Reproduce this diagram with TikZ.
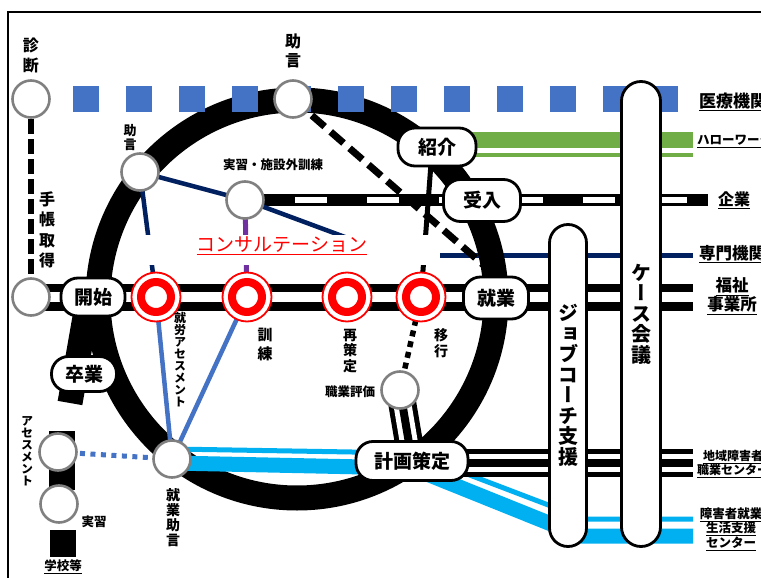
\documentclass[tikz,border=0pt]{standalone}
\usepackage{fontspec}
\setmainfont{Noto Sans CJK JP}
\newfontfamily\jpv[RawFeature=+vert]{Noto Sans CJK JP}
\pgfdeclarelayer{bg}
\pgfsetlayers{bg,main}

\definecolor{medblue}{RGB}{68,114,196}
\definecolor{hwgreen}{RGB}{112,173,71}
\definecolor{navyline}{RGB}{0,32,96}
\definecolor{violetline}{RGB}{112,48,160}
\definecolor{skyline}{RGB}{0,176,240}
\definecolor{stgray}{RGB}{128,128,128}

\begin{document}
\begin{tikzpicture}[x=1pt,y=-1pt,
  station/.style={circle,draw=stgray,line width=2.6,fill=white,minimum size=37,inner sep=0},
  redouter/.style={circle,draw=red,line width=1.8,fill=white,minimum size=49,inner sep=0},
  redinner/.style={circle,draw=red,line width=8,fill=white,minimum size=30,inner sep=0},
  pill/.style={rectangle,rounded corners=17,draw=black,line width=2.8,fill=white,inner sep=0,
    font=\bfseries\fontsize{19}{21}\selectfont},
  vpill/.style={rectangle,draw=black,line width=2.8,fill=white,inner sep=0,align=center,
    font=\jpv\bfseries\fontsize{20}{20.5}\selectfont},
  vlab/.style={inner sep=0,align=center},
  hlab/.style={inner sep=0,align=center},
  railblack/.style={line width=27,black},
  railwhite/.style={line width=10,white},
  triouter/.style={line width=28,black},
  trimid/.style={line width=18,white},
  triinner/.style={line width=8,black}]

\useasboundingbox (0,0) rectangle (761,578);

% ---------- free ends of the lines ----------
\coordinate (medR) at (678,99);
\coordinate (greenA) at (440,140);  \coordinate (greenB) at (693,140);
\coordinate (greenC) at (440,155);  \coordinate (greenD) at (693,155);
\coordinate (kigyoR) at (708,200);
\coordinate (kigyoW1) at (295,200); \coordinate (kigyoW2) at (687,200);
\coordinate (senmonA) at (440,255); \coordinate (senmonB) at (693,255);
\coordinate (fukuR) at (693,297);
\coordinate (chiikiL) at (412,463); \coordinate (chiikiR) at (693,463);
\coordinate (navyEnd) at (380,250);
\coordinate (shokaiB) at (432,150);
\coordinate (diagEnd) at (487,268);
\coordinate (brTop) at (88,300);    \coordinate (brEnd) at (70,403);
\coordinate (cyT0) at (172,449); \coordinate (cyT1) at (412,453);
\coordinate (cyT2) at (585,519); \coordinate (cyT3) at (693,519);
\coordinate (cyK0) at (172,463); \coordinate (cyK1) at (412,468);
\coordinate (cyK2) at (581,536); \coordinate (cyK3) at (693,536);

% ---------- white band behind the consultation title ----------
\node[fill=white,minimum width=300,minimum height=30,inner sep=0] (consultBox) at (290,250) {};
\node[hlab,red,font=\fontsize{19}{21}\selectfont] (tConsult) at (282,246) {\underline{コンサルテーション}};

% ---------- vertical pills ----------
\node[vpill,rounded corners=18.5,minimum width=37,minimum height=322] (job) at (568,385.5)
  {ジ\\ョ\\ブ\\コ\\ー\\チ\\支\\援};
\node[vpill,rounded corners=19.5,minimum width=39,minimum height=465] (caseconf) at (641,314)
  {ケ\\ー\\ス\\会\\議};

% ---------- stations ----------
\node[station] (shindan) at (31,99) {};
\node[station] (kaishiL) at (31,297) {};
\node[station] (jogenT) at (293,99) {};
\node[station] (jogenUL) at (140,172) {};
\node[station] (jisshuG) at (245,200) {};
\node[station] (hyoka) at (400,390) {};
\node[station] (shJogen) at (172,459) {};
\node[station] (assess) at (58,452) {};
\node[station] (jisshuS) at (59,504) {};

\foreach \i/\x in {1/156,2/247,3/347,4/421}{
  \node[redouter] (r\i o) at (\x,297) {};
  \node[redinner] (r\i) at (\x,297) {};
}

% ---------- pills ----------
\node[pill,minimum width=64,minimum height=38] (kaishi) at (93,297) {開始};
\node[pill,minimum width=65,minimum height=35] (sotsu) at (84,374) {卒業};
\node[pill,minimum width=78,minimum height=38] (shokai) at (437,147) {紹介};
\node[pill,minimum width=77,minimum height=42] (ukeire) at (482,200.5) {受入};
\node[pill,minimum width=65,minimum height=42] (shugyo) at (496,298) {就業};
\node[pill,minimum width=112,minimum height=39] (keikaku) at (412,461) {計画策定};

% ---------- vertical labels ----------
\node[vlab,font=\jpv\bfseries\fontsize{16}{20}\selectfont] (tShindan) at (31,55) {診\\断};
\node[vlab,font=\jpv\bfseries\fontsize{16}{19}\selectfont] (tJogenT) at (293,51) {助\\言};
\node[vlab,font=\jpv\bfseries\fontsize{13}{14}\selectfont] (tJogenUL) at (130,138) {助\\言};
\node[vlab,font=\jpv\bfseries\fontsize{16}{20.3}\selectfont] (tTecho) at (47,230) {手\\帳\\取\\得};
\node[vlab,font=\jpv\bfseries\fontsize{12}{12}\selectfont] (tShuro) at (180,360) {就\\労\\ア\\セ\\ス\\メ\\ン\\ト};
\node[vlab,font=\jpv\bfseries\fontsize{15}{19}\selectfont] (tKunren) at (265,345) {訓\\練};
\node[vlab,font=\jpv\bfseries\fontsize{14}{15.5}\selectfont] (tSaisaku) at (350,351) {再\\策\\定};
\node[vlab,font=\jpv\bfseries\fontsize{14}{16}\selectfont] (tIko) at (441,343) {移\\行};
\node[vlab,font=\jpv\bfseries\fontsize{14}{15}\selectfont] (tShJogen) at (173,518) {就\\業\\助\\言};
\node[vlab,font=\jpv\bfseries\fontsize{12}{12}\selectfont] (tAssess) at (27,451) {ア\\セ\\ス\\メ\\ン\\ト};

% ---------- horizontal labels ----------
\node[hlab,font=\bfseries\fontsize{12.5}{14}\selectfont] (tJisshuG) at (273,165) {実習・施設外訓練};
\node[hlab,font=\bfseries\fontsize{12.5}{14}\selectfont] (tHyoka) at (350,392) {職業評価};
\node[hlab,font=\bfseries\fontsize{12.5}{14}\selectfont] (tJisshuS) at (94,522) {実習};
\node[hlab,font=\bfseries\fontsize{12.5}{14}\selectfont] (tGakko) at (63,567) {\underline{学校等}};

\node[hlab,anchor=west,font=\bfseries\fontsize{17}{20}\selectfont] (tIryo) at (699,102) {\underline{医療機関}};
\node[hlab,anchor=west,font=\bfseries\fontsize{12.5}{14}\selectfont] (tHW) at (697,141) {\underline{ハローワーク}};
\node[hlab,font=\bfseries\fontsize{16}{18}\selectfont] (tKigyo) at (734,200) {\underline{企業}};
\node[hlab,anchor=west,font=\bfseries\fontsize{16.5}{18}\selectfont] (tSenmon) at (699,254) {\underline{専門機関}};
\node[hlab,font=\bfseries\fontsize{16.5}{19}\selectfont] (tFukushi) at (732,296) {\underline{福祉}\\\underline{事業所}};
\node[hlab,font=\bfseries\fontsize{12}{14}\selectfont] (tChiiki) at (733,464) {\underline{地域障害者}\\\underline{職業センター}};
\node[hlab,font=\bfseries\fontsize{12.5}{14.5}\selectfont] (tSeikatsu) at (731,529) {\underline{障害者就業}\\\underline{生活支援}\\\underline{センター}};

% ---------- lines, all beneath the nodes ----------
\begin{pgfonlayer}{bg}
  \fill[white] (0,0) rectangle (761,578);
  \draw[line width=1.4] (8,578) -- (8,12) -- (761,12);

  % Hello Work (green) and specialist agencies (navy)
  \draw[hwgreen,line width=16] (greenA) -- (greenB);
  \draw[hwgreen,line width=4.5] (greenC) -- (greenD);
  \draw[navyline,line width=5] (senmonA) -- (senmonB);

  % the big loop and the graduation branch
  \draw[line width=25] (297,299) circle[radius=199pt];
  \draw[line width=25] (brTop) -- (brEnd);
  \draw[line width=26] (62,431) -- (62,490);
  \draw[line width=26] (63,530) -- (63,557);

  % medical institutions (blue squares)
  \draw[medblue,line width=26,dash pattern=on 26 off 27,dash phase=11] (shindan.center) -- (medR);

  % main double track
  \draw[railblack] (kaishiL.center) -- (fukuR);
  \draw[railwhite] (kaishiL.center) -- (fukuR);

  % company line
  \draw[line width=12] (jisshuG.center) -- (kigyoR);
  \draw[white,line width=6,dash pattern=on 32 off 40] (kigyoW1) -- (kigyoW2);

  % life-support centre (sky blue)
  \draw[skyline,line width=15,line join=round] (cyK0) -- (cyK1) -- (cyK2) -- (cyK3);
  \draw[skyline,line width=5,line join=round] (cyT0) -- (cyT1) -- (cyT2) -- (cyT3);

  % vocational centre triple track
  \foreach \s in {triouter,trimid,triinner}{
    \draw[\s] (hyoka.center) -- (keikaku.center);
    \draw[\s] (chiikiL) -- (chiikiR);
  }

  % thin connectors
  \draw[navyline,line width=4.5] (jogenUL.center) -- (jisshuG.center);
  \draw[navyline,line width=4.5] (jisshuG.center) -- (navyEnd);
  \draw[navyline,line width=4.5] (jogenUL.center) -- (r1.center);
  \draw[violetline,line width=5] (jisshuG.center) -- (r2.center);
  \draw[line width=5] (shokaiB) -- (r4.center);
  \draw[medblue,line width=4.5] (r1.center) -- (shJogen.center);
  \draw[medblue,line width=4.5] (r2.center) -- (shJogen.center);
  \draw[medblue,line width=5,dash pattern=on 5 off 5.5,dash phase=9.5] (assess.center) -- (shJogen.center);
  \draw[line width=5.5,dash pattern=on 6 off 5] (hyoka.center) -- (r4.center);
  \draw[line width=7,dash pattern=on 17 off 8] (jogenT.center) -- (diagEnd);
  \draw[line width=6.5,dash pattern=on 15 off 5] (shindan.center) -- (kaishiL.center);
\end{pgfonlayer}
\end{tikzpicture}
\end{document}
